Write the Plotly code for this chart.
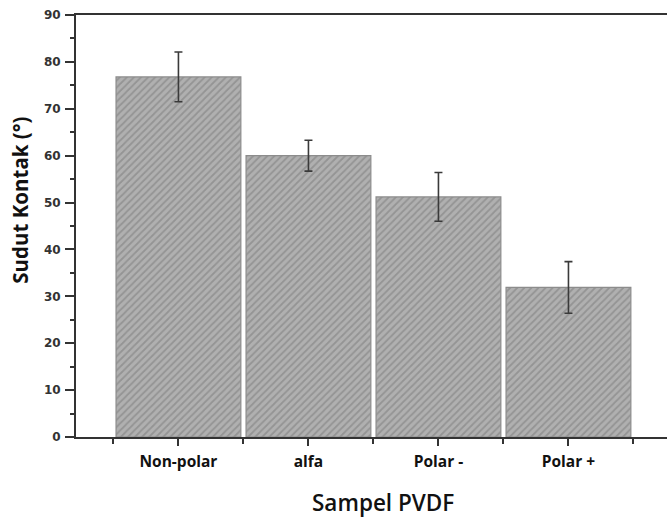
import plotly.graph_objects as go

categories = ["Non-polar", "alfa", "Polar -", "Polar +"]
contact_angle = [76.8, 60.0, 51.2, 31.9]
error = [5.3, 3.3, 5.2, 5.5]
y_ticks = [0, 10, 20, 30, 40, 50, 60, 70, 80, 90]
x_title = "Sampel PVDF"
y_title = "Sudut Kontak (°)"

positions = list(range(1, len(categories) + 1))

fig = go.Figure()
fig.add_trace(go.Bar(
    x=positions,
    y=contact_angle,
    width=0.96,
    marker=dict(
        color="#b0b0b0",
        line=dict(color="#8c8c8c", width=1.2),
        pattern=dict(shape="/", fgcolor="#777777", bgcolor="#b0b0b0", size=5, solidity=0.35),
    ),
    error_y=dict(type="data", array=error, visible=True, color="#3a3a3a", thickness=1.6, width=4),
    showlegend=False,
))

fig.update_layout(
    width=667, height=518,
    margin=dict(l=76, r=0, t=15, b=81),
    plot_bgcolor="white", paper_bgcolor="white",
    xaxis=dict(
        range=[0.212, 4.758],
        tickvals=positions, ticktext=categories,
        showline=True, linecolor="#333", linewidth=2, mirror=True,
        ticks="outside", ticklen=7, tickcolor="#333", tickwidth=1.5,
        ticklabelstandoff=2,
        minor=dict(tick0=0.5, dtick=1, ticks="outside", ticklen=5, tickcolor="#333"),
        tickfont=dict(family="Open Sans", size=15.5, color="#111", weight="bold"),
        showgrid=False, zeroline=False,
    ),
    yaxis=dict(
        range=[0, 90],
        tickvals=y_ticks,
        showline=True, linecolor="#333", linewidth=2,
        ticks="outside", ticklen=9, tickcolor="#333", tickwidth=1.5,
        ticklabelstandoff=2,
        minor=dict(dtick=5, ticks="outside", ticklen=4, tickcolor="#333"),
        tickfont=dict(family="DejaVu Sans", size=12, color="#333", weight="bold"),
        showgrid=False, zeroline=False,
    ),
    annotations=[
        dict(text=x_title, xref="paper", yref="paper", x=0.519, y=-0.155,
             xanchor="center", yanchor="middle", showarrow=False,
             font=dict(family="Open Sans", size=22.5, color="#111", weight=600)),
        dict(text=y_title, xref="paper", yref="paper", x=-0.095, y=0.562,
             xanchor="center", yanchor="middle", showarrow=False, textangle=-90,
             font=dict(family="Open Sans", size=20.5, color="#111", weight="bold")),
    ],
)

fig.write_html("out.html")
